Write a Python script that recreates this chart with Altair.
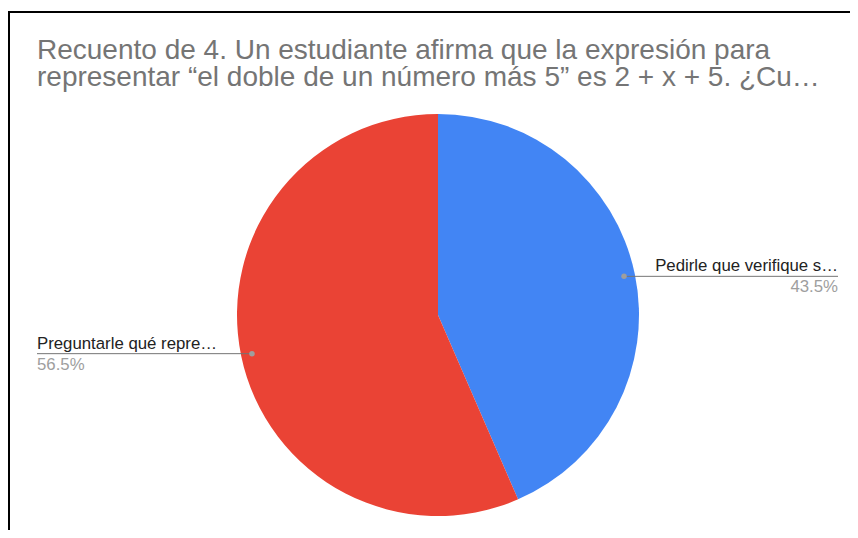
import altair as alt
import pandas as pd

# ---- data ----
categories = ["Pedirle que verifique s…", "Preguntarle qué repre…"]
counts = [10, 13]
colors = ["#4285F4", "#EA4335"]
title_lines = [
    "Recuento de 4. Un estudiante afirma que la expresión para",
    "representar “el doble de un número más 5” es 2 + x + 5. ¿Cu…",
]

W, H = 842, 522
CX, CY, R = 430, 307, 201
LABEL_R = 190
RIGHT_END, LEFT_END = 830, 29
FONT = "Liberation Sans"
TITLE_SIZE = 28
LABEL_SIZE = 16.8

df = pd.DataFrame({"category": categories, "count": counts, "order": list(range(len(counts)))})
one = pd.DataFrame({"a": [0]})

pie = alt.Chart(df).mark_arc(outerRadius=R).encode(
    theta=alt.Theta("count:Q", stack=True),
    color=alt.Color("category:N", scale=alt.Scale(domain=categories, range=colors), legend=None),
    order=alt.Order("order:Q"),
    x=alt.value(CX),
    y=alt.value(CY),
)

lab = alt.Chart(df).transform_joinaggregate(
    total="sum(count)"
).transform_window(
    cum="sum(count)", sort=[alt.SortField("order")]
).transform_calculate(
    mid="(datum.cum - datum.count/2) / datum.total * 2 * PI",
    pct="format(datum.count / datum.total * 100, '.1f') + '%'",
).transform_calculate(
    px=f"{CX} + {LABEL_R} * sin(datum.mid)",
    py=f"{CY} - {LABEL_R} * cos(datum.mid)",
    right="sin(datum.mid) > 0",
).transform_calculate(
    lend=f"datum.right ? {RIGHT_END} : {LEFT_END}",
    ny="datum.py - 5",
    pyy="datum.py + 16",
)

X = lambda f: alt.X(f"{f}:Q", scale=None, axis=None)
Y = lambda f: alt.Y(f"{f}:Q", scale=None, axis=None)

rule = lab.mark_rule(color="#757575", strokeWidth=1).encode(x=X("px"), x2="lend:Q", y=Y("py"))
dot = lab.mark_circle(color="#9E9E9E", opacity=1, size=30).encode(x=X("px"), y=Y("py"))

def txt(side, field, yfield, color):
    flt = "datum.right" if side == "right" else "!datum.right"
    return lab.transform_filter(flt).mark_text(
        align=side, baseline="alphabetic", font=FONT, fontSize=LABEL_SIZE, color=color
    ).encode(x=X("lend"), y=Y(yfield), text=f"{field}:N")

name_r = txt("right", "category", "ny", "#222222")
name_l = txt("left", "category", "ny", "#222222")
pct_r = txt("right", "pct", "pyy", "#9E9E9E")
pct_l = txt("left", "pct", "pyy", "#9E9E9E")

t1 = alt.Chart(one).mark_text(align="left", baseline="alphabetic", font=FONT, fontSize=TITLE_SIZE, color="#757575").encode(
    x=alt.value(29), y=alt.value(51), text=alt.value(title_lines[0]))
t2 = alt.Chart(one).mark_text(align="left", baseline="alphabetic", font=FONT, fontSize=TITLE_SIZE, color="#757575").encode(
    x=alt.value(29), y=alt.value(78), text=alt.value(title_lines[1]))

top_border = alt.Chart(one).mark_rule(color="black", strokeWidth=2).encode(
    x=alt.value(0), x2=alt.value(W), y=alt.value(4))
left_border = alt.Chart(one).mark_rule(color="black", strokeWidth=2).encode(
    x=alt.value(1), y=alt.value(3), y2=alt.value(H))

chart = alt.layer(
    pie, rule, dot, name_r, name_l, pct_r, pct_l, t1, t2, top_border, left_border
).properties(
    width=W, height=H, padding=0, autosize=alt.AutoSizeParams(type="none"), background="white"
).configure_view(stroke=None)

chart.save("out.html", embed_options={"renderer": "svg", "actions": False})
